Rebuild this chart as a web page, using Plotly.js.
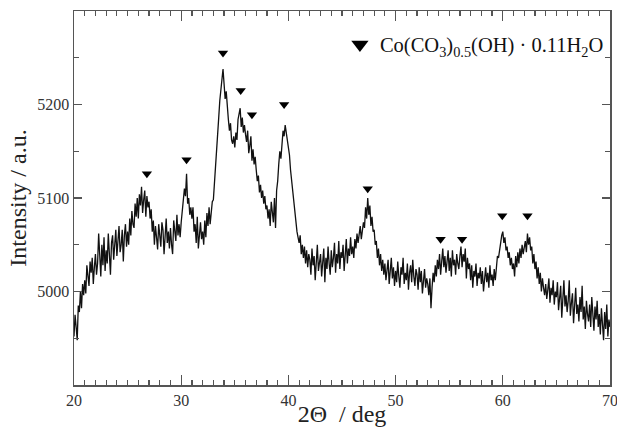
<!DOCTYPE html>
<html>
<head>
<meta charset="utf-8">
<script src="https://cdn.plot.ly/plotly-3.0.1.min.js"></script>
<style>html,body{margin:0;padding:0;background:#fff;}#chart{width:617px;height:427px;}</style>
</head>
<body>
<div id="chart"></div>
<script>
// XRD pattern: 2Theta from 20.0 to 70.0 deg, step 0.1 deg
const thetaStart = 20.0;
const thetaStep = 0.1;
const intensity = [
4952,4975,4962,4948,4985,4978,5000,4982,5008,4996,
5012,4998,5028,5015,5006,5032,5020,5036,5008,5026,
5040,5018,5030,5062,5035,5016,5050,5028,5058,5022,
5044,5030,5062,5040,5018,5052,5060,5034,5046,5066,
5038,5056,5070,5042,5050,5066,5032,5060,5072,5048,
5064,5050,5078,5060,5086,5072,5068,5094,5080,5100,
5078,5104,5092,5112,5084,5098,5108,5080,5102,5090,
5096,5078,5088,5064,5076,5050,5070,5058,5045,5072,
5060,5048,5074,5066,5040,5062,5078,5052,5064,5046,
5068,5050,5040,5076,5062,5054,5082,5060,5072,5058,
5074,5084,5096,5110,5102,5126,5094,5100,5082,5090,
5078,5090,5064,5072,5052,5080,5046,5066,5074,5056,
5064,5050,5076,5058,5084,5070,5090,5072,5082,5096,
5098,5118,5136,5150,5172,5186,5204,5214,5226,5238,
5222,5206,5214,5192,5184,5172,5180,5162,5158,5166,
5154,5170,5162,5184,5190,5196,5176,5186,5170,5178,
5168,5160,5172,5148,5156,5166,5140,5152,5136,5144,
5130,5118,5124,5106,5114,5100,5108,5094,5102,5088,
5092,5078,5088,5070,5096,5080,5074,5100,5068,5108,
5118,5136,5150,5142,5160,5172,5166,5178,5170,5162,
5156,5146,5130,5118,5106,5096,5084,5074,5064,5058,
5052,5060,5040,5050,5036,5048,5030,5044,5026,5040,
5034,5018,5046,5028,5038,5012,5040,5050,5022,5032,
5040,5016,5028,5046,5010,5036,5024,5048,5030,5018,
5044,5026,5036,5052,5020,5040,5030,5054,5024,5042,
5036,5050,5022,5044,5056,5030,5046,5038,5058,5040,
5048,5036,5056,5046,5062,5052,5060,5070,5056,5066,
5074,5068,5090,5078,5100,5082,5092,5070,5080,5064,
5066,5050,5054,5036,5046,5028,5040,5022,5034,5018,
5030,5012,5024,5034,5008,5020,5036,5014,5026,5006,
5022,5010,5032,5016,5004,5026,5018,5036,5008,5020,
5012,5030,5002,5020,5028,5010,5034,5016,5006,5024,
5018,5002,5026,5010,5022,4998,5016,5024,5004,5014,
5008,4996,5014,4982,5004,5020,5010,5028,5016,5034,
5024,5040,5018,5034,5046,5026,5038,5020,5032,5044,
5022,5036,5016,5044,5028,5034,5018,5040,5030,5024,
5038,5048,5026,5040,5032,5046,5014,5036,5024,5030,
5012,5028,5004,5022,5016,5030,5006,5020,5014,5026,
5008,5022,5000,5016,5026,5010,5020,5004,5028,5012,
5018,5006,5024,5012,5030,5038,5036,5048,5052,5060,
5064,5052,5058,5044,5048,5036,5042,5028,5036,5024,
5030,5016,5038,5026,5042,5030,5046,5036,5050,5040,
5048,5054,5042,5062,5050,5058,5044,5048,5030,5040,
5024,5032,5014,5026,5008,5020,5000,5014,5004,4996,
5008,4992,5002,5014,4988,5004,4996,5012,4986,5000,
4994,5010,4980,4998,5006,4972,4992,5012,4984,4996,
4978,4990,5012,4974,4988,4998,4966,4984,5004,4976,
4986,4968,4994,4978,5006,4970,4984,4960,4990,4976,
4968,4986,4962,4994,4974,4958,4984,4970,4990,4962,
4976,4954,4982,4964,4948,4978,4960,4986,4952,4970,
4962
];
// reflection markers
const peakTheta = [26.8, 30.5, 33.9, 35.55, 36.6, 39.6, 47.4, 54.2, 56.2, 59.95, 62.3];
const peakMark  = [5126, 5141, 5255, 5215, 5189, 5200, 5110, 5056, 5056, 5081, 5081];
const legendLabel = 'Co(CO<sub>3</sub>)<sub>0.5</sub>(OH) · 0.11H<sub>2</sub>O';
const xTickVals = [20, 30, 40, 50, 60, 70];
const yTickVals = [5000, 5100, 5200];

const theta = intensity.map((_, i) => +(thetaStart + i * thetaStep).toFixed(2));

const serif = 'Liberation Serif, serif';
const tickFont = {family: 'Liberation Serif, serif', size: 16, color: '#333'};

const data = [
  {x: theta, y: intensity, type: 'scatter', mode: 'lines',
   line: {color: '#111', width: 1.3}, showlegend: false, hoverinfo: 'skip'},
  {x: peakTheta, y: peakMark, type: 'scatter', mode: 'markers',
   marker: {symbol: 'triangle-down', size: 9, color: '#000'}, showlegend: false},
  {x: [null], y: [null], type: 'scatter', mode: 'markers', name: legendLabel,
   marker: {symbol: 'triangle-down', size: 15, color: '#000'}, showlegend: true}
];

const layout = {
  width: 617, height: 427,
  margin: {l: 74, r: 7, t: 11, b: 42},
  paper_bgcolor: '#fff', plot_bgcolor: '#fff',
  font: {family: serif, size: 16, color: '#333'},
  xaxis: {
    range: [20, 70], tickmode: 'array', tickvals: xTickVals,
    showline: true, linecolor: '#555', linewidth: 1.5, mirror: 'ticks',
    ticks: 'inside', ticklen: 10, tickwidth: 1.2, tickcolor: '#555',
    showgrid: false, zeroline: false, automargin: false,
    ticklabeloverflow: 'allow',
    tickfont: tickFont,
    minor: {dtick: 1, ticklen: 5, tickcolor: '#555', ticks: 'inside'},
    title: {text: '2Θ  / deg', font: {family: serif, size: 24, color: '#222'}, standoff: 0}
  },
  yaxis: {
    range: [4900, 5300], tickmode: 'array', tickvals: yTickVals,
    showline: true, linecolor: '#555', linewidth: 1.5, mirror: 'ticks',
    ticks: 'inside', ticklen: 8, tickwidth: 1.2, tickcolor: '#555',
    showgrid: false, zeroline: false, automargin: false,
    tickfont: tickFont,
    minor: {dtick: 50, tick0: 4900, ticklen: 5, tickcolor: '#555', ticks: 'inside'},
    title: {text: 'Intensity / a.u.', font: {family: serif, size: 24, color: '#222'}, standoff: 4}
  },
  legend: {x: 0.998, y: 0.91, xanchor: 'right', yanchor: 'middle',
    bgcolor: 'rgba(0,0,0,0)', borderwidth: 0,
    font: {family: serif, size: 20.5, color: '#111'}}
};

Plotly.newPlot('chart', data, layout, {displayModeBar: false, staticPlot: true});
</script>
</body>
</html>
